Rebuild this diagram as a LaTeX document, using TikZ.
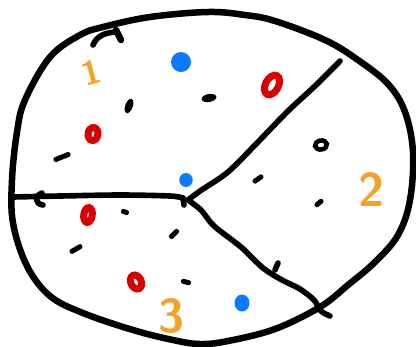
\documentclass[tikz,border=0pt]{standalone}
\usepackage{tikz}
\usetikzlibrary{positioning,shapes.geometric}

\definecolor{ink}      {HTML}{000000}
\definecolor{redmark}  {HTML}{D90000}
\definecolor{bluemark} {HTML}{0A7BFF}
\definecolor{digitink} {HTML}{F7A128}

\tikzset{
  % --- strokes
  rim/.style   = {draw=ink, line width=3.7pt, line cap=round, line join=round},
  wall/.style  = {draw=ink, line width=3.2pt, line cap=round, line join=round},
  % --- marks
  num/.style   = {text=digitink, inner sep=0pt,
                  font=\sffamily\bfseries\fontsize{27}{27}\selectfont},
  zero/.style  = {ellipse, draw=redmark, line width=4pt, inner sep=0pt},
  blob/.style  = {ellipse, fill=bluemark, inner sep=0pt},
  speck/.style = {ellipse, fill=ink, inner sep=0pt},
  ring/.style  = {ellipse, draw=ink, line width=2.6pt, inner sep=0pt},
  flick/.style = {rectangle, fill=ink, rounded corners=1.2pt, inner sep=0pt,
                  minimum height=0.1cm},
}

\begin{document}
\begin{tikzpicture}[x=0.02cm, y=-0.02cm]
  \useasboundingbox (0,0) rectangle (416,346);

  % outline of the disc
  \draw[rim] plot[smooth cycle, tension=0.6] coordinates {
    (103,27) (150,17) (208,12) (245,15) (275,21) (325,40) (358,60) (388,84)
    (405,112) (413,152) (410,200) (398,235) (375,262) (348,285) (320,307)
    (275,329) (228,341) (200,344) (173,340) (133,330) (83,313) (50,296)
    (27,266) (13,223) (12,180) (17,132) (25,100) (50,57) (80,35)};
  \draw[rim] (116,30) -- (121,40);
  \draw[wall] (93,45) .. controls (97,36) and (104,33) .. (115,32);

  % the three walls
  \coordinate (hub)   at (188,200);
  \coordinate (west)  at (13,197);
  \coordinate (westend) at (183,198);
  \coordinate (north) at (340,61);
  \coordinate (south) at (330,316);

  \draw[wall] plot[smooth] coordinates {(west) (60,196) (120,195) (170,196) (westend)};
  \draw[wall] (westend) -- ++(1,7);
  \draw[wall] (42,193) .. controls (34,196) and (35,204) .. (43,205);
  \draw[wall] plot[smooth] coordinates {(hub) (200,191) (228,172) (258,142)
    (288,111) (315,86) (north)};
  \draw[wall] plot[smooth] coordinates {(hub) (201,210) (214,226) (241,247)
    (263,268) (282,280) (300,289) (314,300) (321,311) (south)};
  \draw[wall] (275,270) -- (278,263);

  % region numbers
  \node[num, rotate=15, font=\sffamily\bfseries\fontsize{19}{19}\selectfont] (one) at (91,73) {1};
  \node[num] (two)   at (372,190) {2};
  \node[num] (three) at (172,316) {3};

  % red zeros
  \node[zero, minimum width=0.20cm, minimum height=0.26cm, rotate=-8]  (z1) at (93,134) {};
  \node[zero, minimum width=0.26cm, minimum height=0.42cm, rotate=-28] (z2) at (272,85) {};
  \node[zero, minimum width=0.17cm, minimum height=0.30cm, rotate=-8]  (z3) at (88,215) {};
  \node[zero, minimum width=0.21cm, minimum height=0.29cm, rotate=25]  (z4) at (136,282) {};

  % blue dots
  \node[blob, minimum width=0.40cm, minimum height=0.40cm] (b1) at (181,62) {};
  \node[blob, minimum width=0.27cm, minimum height=0.28cm] (b2) at (186,180) {};
  \node[blob, minimum width=0.30cm, minimum height=0.34cm] (b3) at (242,303) {};

  % black marks
  \node[speck, minimum width=0.30cm, minimum height=0.15cm, rotate=70] (s1) at (129,106) {};
  \node[speck, minimum width=0.30cm, minimum height=0.16cm, rotate=10] (s2) at (209,98) {};
  \node[ring, minimum width=0.24cm, minimum height=0.18cm, rotate=10]  (r1) at (321,145) {};
  \foreach \x/\y/\a/\l [count=\i] in {62/157/22/0.36, 125/212/-20/0.16,
      174/234/45/0.24, 76/249/30/0.28, 186/282/-15/0.20, 258/179/35/0.24,
      319/203/40/0.20}
    \node[flick, minimum width=\l cm, rotate=\a] (f\i) at (\x,\y) {};
\end{tikzpicture}
\end{document}
